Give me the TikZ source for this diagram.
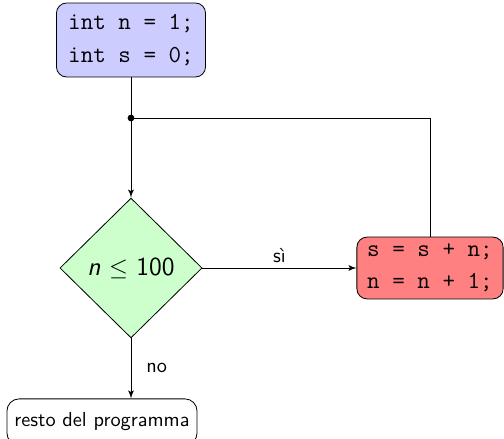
\documentclass[tikz,border=0pt]{standalone}
\usetikzlibrary{shapes.geometric,arrows}

\tikzset{
  code/.style={draw, rounded corners=5pt, align=left, inner sep=0pt,
    font=\fontsize{12}{16}\selectfont\ttfamily},
  decision/.style={draw, diamond, fill=green!20, inner sep=0pt,
    font=\fontsize{12.8}{15}\selectfont\sffamily},
  flow/.style={-latex', thin},
  lbl/.style={font=\sffamily}
}

\begin{document}
\begin{tikzpicture}[x=0.0173cm, y=-0.0173cm]
    \useasboundingbox (0,0) rectangle (504,438);
    \clip (0,0) rectangle (504,438);

    % Initialisation
    \node[code, fill=blue!20, minimum width=2.58cm, minimum height=1.28cm]
        (init) at (131, 40) {int n = 1;\\int s = 0;};

    % Loop test
    \node[decision, minimum width=2.46cm, minimum height=2.42cm]
        (cond) at (131, 268) {\textit{n} $\leq$ 100};

    % Loop body
    \node[code, fill=red!50, minimum width=2.53cm, minimum height=1.07cm]
        (body) at (430, 268) {s = s + n;\\n = n + 1;};

    % After the loop
    \node[draw, rounded corners=6pt, font=\sffamily, inner sep=0pt,
        minimum width=3.29cm, minimum height=0.8cm]
        (rest) at (102, 422) {resto del programma};

    % Join point
    \coordinate (join) at (131, 118);
    \fill (join) circle (3.4);

    % Arrows
    \draw (init) -- (join);
    \draw[flow] (join) -- (cond.north);
    \draw[flow] (cond.east) -- node[lbl, above=-1pt] {sì} (body.west);
    \draw (body.north) |- (join);
    \draw[flow] (cond.south) -- node[lbl, right=4pt] {no} (rest.north -| cond.south);
\end{tikzpicture}
\end{document}
